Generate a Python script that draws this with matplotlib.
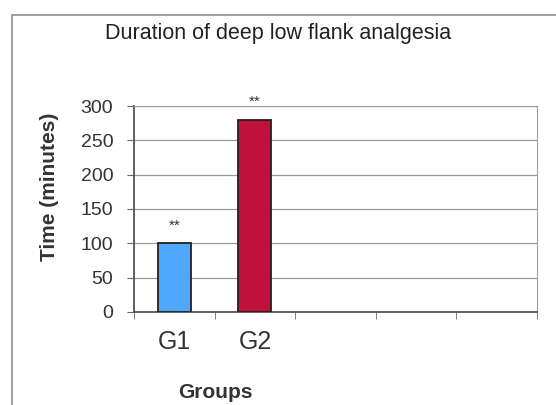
import numpy as np
import matplotlib.pyplot as plt
from matplotlib.patches import Rectangle

plt.rcParams['font.family'] = ['Liberation Sans', 'DejaVu Sans']

groups = ["G1", "G2"]
durations = [100, 280]
n_slots = 5
bar_colors = ["#4fa8ff", "#c0103c"]
sig_marks = ["**", "**"]
sig_heights = [116, 296]

fig = plt.figure(figsize=(5.56, 4.05), dpi=100)
ax = fig.add_axes([0.241, 0.230, 0.725, 0.508])

# outer chart frame (only left/top visible in the scan)
fig.patches.append(Rectangle((12 / 556, -0.1), 1.2, 1 - 15 / 405 + 0.1,
                             transform=fig.transFigure, fill=False,
                             edgecolor="#909090", linewidth=1.2))

x = np.arange(len(groups))
ax.bar(x, durations, width=0.41, color=bar_colors, edgecolor="#222222",
       linewidth=1.3, zorder=3)

for xi, mark, h in zip(x, sig_marks, sig_heights):
    ax.text(xi, h, mark, ha="center", va="bottom", fontsize=11, color="#333333")

ax.set_xlim(-0.5, n_slots - 0.5)
ax.set_ylim(0, 300)
ax.set_yticks(np.arange(0, 301, 50))
ax.set_xticks(x)
ax.set_xticklabels(groups, fontsize=18, color="#333333")
ax.set_xticks(np.arange(-0.5, n_slots, 1), minor=True)
ax.tick_params(axis="x", which="major", length=0, pad=13)
ax.tick_params(axis="x", which="minor", length=5, color="#666666")
ax.tick_params(axis="y", labelsize=14, labelcolor="#333333", length=5,
               color="#666666", pad=10)

ax.yaxis.grid(True, color="#9a9a9a", linewidth=0.9, zorder=0)
ax.set_axisbelow(True)
for side in ["top", "right"]:
    ax.spines[side].set_color("#a0a0a0")
for side in ["left", "bottom"]:
    ax.spines[side].set_color("#555555")
    ax.spines[side].set_linewidth(1.3)

ax.set_ylabel("Time (minutes)", fontsize=15, fontweight="bold",
              color="#333333")
ax.yaxis.set_label_coords(-0.186, 0.61)
ax.set_xlabel("Groups", fontsize=15, fontweight="bold", color="#333333")
ax.xaxis.set_label_coords(0.201, -0.345)

fig.text(0.5, 0.918, "Duration of deep low flank analgesia", ha="center",
         va="center", fontsize=15.5, color="#222222")

fig.savefig("out.png", dpi=100)
